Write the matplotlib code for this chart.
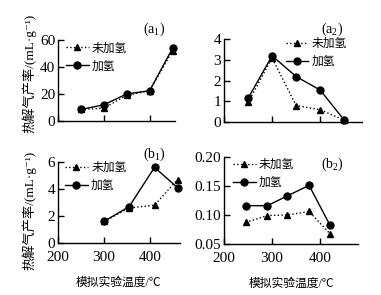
import matplotlib
matplotlib.use("Agg")
import matplotlib.pyplot as plt

# ---- data ----
a1_temp = [250, 300, 350, 400, 450]
a1_nonH = [8.5, 9.5, 19, 22.5, 52]
a1_H = [8.5, 12, 20, 22.5, 54]

a2_temp = [250, 300, 350, 400, 450]
a2_nonH = [0.95, 3.1, 0.8, 0.6, 0.1]
a2_H = [1.15, 3.2, 2.2, 1.55, 0.1]

b1_temp = [300, 355, 410, 460]
b1_nonH = [1.6, 2.6, 2.8, 4.7]
b1_H = [1.6, 2.7, 5.6, 4.1]

b2_temp = [245, 290, 332, 377, 420]
b2_nonH = [0.087, 0.099, 0.100, 0.106, 0.068]
b2_H = [0.116, 0.116, 0.133, 0.151, 0.083]

legend_labels = ["未加氢", "加氢"]
panel_labels = ["(a$_1$)", "(a$_2$)", "(b$_1$)", "(b$_2$)"]
ylabel = "热解气产率/(mL·g⁻¹)"
xlabel = "模拟实验温度/℃"

fam = ["Liberation Serif", "Noto Sans CJK SC", "DejaVu Sans"]
plt.rcParams["font.family"] = fam
plt.rcParams["mathtext.fontset"] = "custom"
plt.rcParams["mathtext.rm"] = "Liberation Serif"

fig = plt.figure(figsize=(3.81, 2.95), dpi=100)

panels = [
    dict(rect=[0.152, 0.590, 0.307, 0.274], t=a1_temp, n=a1_nonH, h=a1_H,
         xlim=(200, 455), ylim=(0, 60), yt=[0, 20, 40, 60], ytl=["0", "20", "40", "60"],
         lab=(0.73, 1.135), leg=(0.05, 1.0)),
    dict(rect=[0.588, 0.586, 0.362, 0.281], t=a2_temp, n=a2_nonH, h=a2_H,
         xlim=(200, 487), ylim=(0, 4), yt=[0, 1, 2, 3, 4], ytl=["0", "1", "2", "3", "4"],
         lab=(0.70, 1.12), leg=(0.43, 1.04)),
    dict(rect=[0.152, 0.176, 0.320, 0.275], t=b1_temp, n=b1_nonH, h=b1_H,
         xlim=(200, 465), ylim=(0, 6), yt=[0, 2, 4, 6], ytl=["0", "2", "4", "6"],
         lab=(0.70, 1.09), leg=(0.04, 1.025)),
    dict(rect=[0.588, 0.173, 0.352, 0.295], t=b2_temp, n=b2_nonH, h=b2_H,
         xlim=(200, 479), ylim=(0.05, 0.20), yt=[0.05, 0.10, 0.15, 0.20],
         ytl=["0.05", "0.10", "0.15", "0.20"],
         lab=(0.72, 0.91), leg=(0.05, 1.0)),
]

for i, p in enumerate(panels):
    ax = fig.add_axes(p["rect"])
    ax.plot(p["t"], p["n"], linestyle=":", color="black", lw=1.0,
            marker="^", ms=4.5, label=legend_labels[0], clip_on=False)
    ax.plot(p["t"], p["h"], linestyle="-", color="black", lw=1.0,
            marker="o", ms=5, label=legend_labels[1], clip_on=False)
    ax.set_xlim(*p["xlim"])
    ax.set_ylim(*p["ylim"])
    ax.set_yticks(p["yt"])
    ax.set_yticklabels(p["ytl"])
    ax.set_xticks([200, 300, 400])
    if i >= 2:
        ax.set_xticklabels(["200", "300", "400"])
        ax.set_xlabel(xlabel, fontsize=8.5, labelpad=9)
    else:
        ax.set_xticklabels([])
    for s in ["top", "right"]:
        ax.spines[s].set_visible(False)
    for s in ["left", "bottom"]:
        ax.spines[s].set_linewidth(1.0)
    ax.tick_params(direction="in", length=4, width=1, labelsize=11)
    ax.tick_params(axis="y", pad=2)
    ax.tick_params(axis="x", pad=6)
    ax.text(p["lab"][0], p["lab"][1], panel_labels[i], transform=ax.transAxes,
            fontsize=10, ha="left", va="center")
    ax.legend(loc="upper left", bbox_to_anchor=p["leg"], frameon=False,
              fontsize=8.5, handlelength=1.9, handletextpad=0.3,
              borderpad=0.1, labelspacing=0.5, borderaxespad=0.1)

fig.text(0.076, 0.75, ylabel, rotation=90, ha="center", va="center", fontsize=9.5)
fig.text(0.076, 0.288, ylabel, rotation=90, ha="center", va="center", fontsize=9.5)

fig.savefig("out.png", dpi=100)
